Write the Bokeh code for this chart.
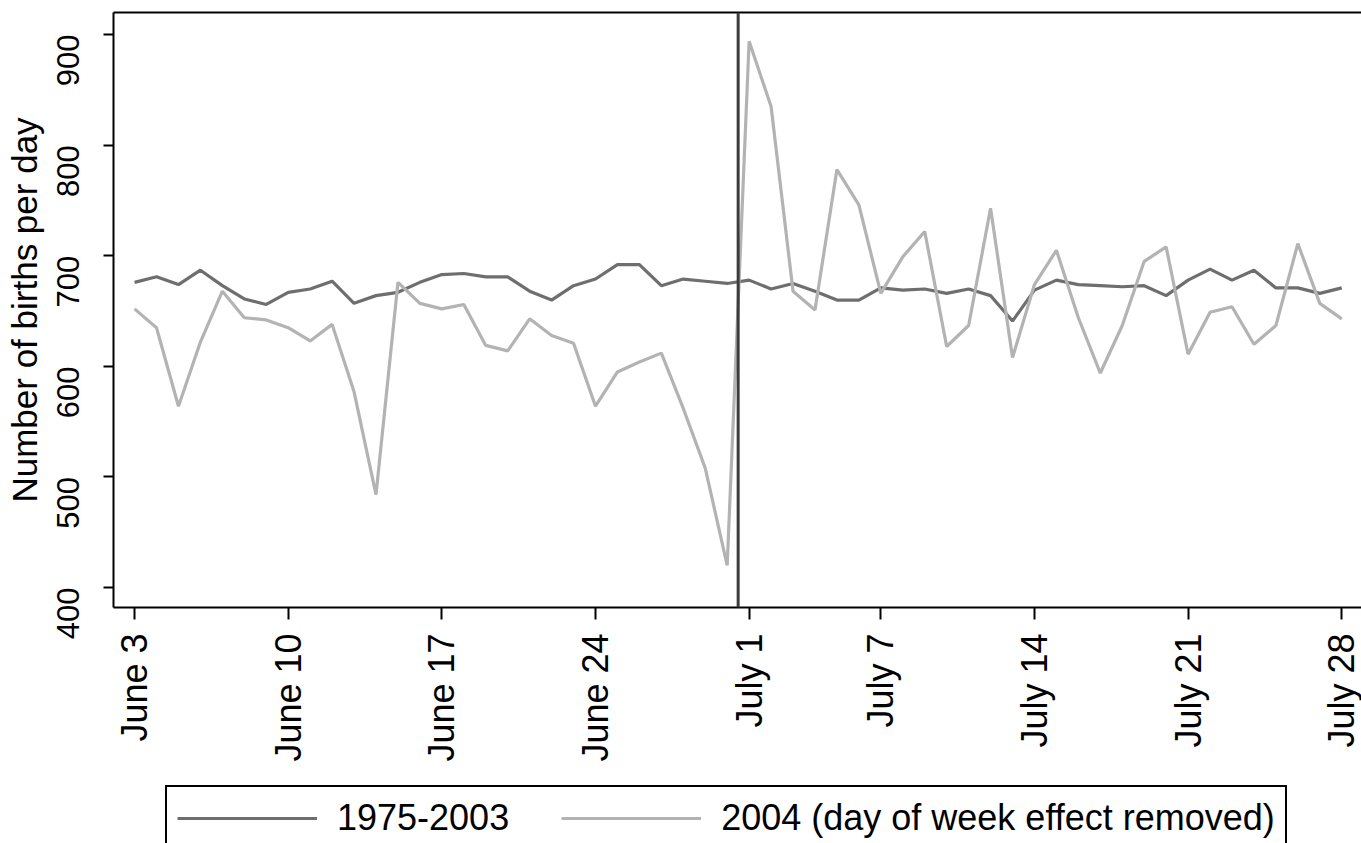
import math
from bokeh.plotting import figure
from bokeh.layouts import column
from bokeh.models import (ColumnDataSource, FixedTicker, Span, Legend, LegendItem,
                          LinearAxis, Range1d)
from bokeh.embed import file_html
from bokeh.resources import INLINE

# Day index 0 = June 3 ... 55 = July 28
days = list(range(56))
tick_days = [0, 7, 14, 21, 28, 34, 41, 48, 55]
tick_labels = ["June 3", "June 10", "June 17", "June 24", "July 1",
               "July 7", "July 14", "July 21", "July 28"]
y_ticks = [400, 500, 600, 700, 800, 900]
cutoff_day = 27.5  # between June 30 and July 1

births_1975_2003 = [676, 681, 674, 687, 673, 661, 656, 667, 670, 677,
                    657, 664, 667, 676, 683, 684, 681, 681, 668, 660,
                    673, 679, 692, 692, 673, 679, 677, 675, 678, 670,
                    675, 668, 660, 660, 671, 669, 670, 666, 670, 664,
                    641, 669, 678, 674, 673, 672, 673, 664, 678, 688,
                    678, 687, 671, 671, 666, 671]
births_2004 = [652, 635, 564, 622, 668, 644, 642, 635, 623, 638,
               577, 484, 676, 657, 652, 656, 619, 614, 643, 628,
               621, 564, 595, 604, 612, 562, 508, 420, 894, 835,
               668, 651, 778, 746, 666, 699, 722, 618, 637, 743,
               608, 674, 705, 644, 594, 637, 695, 708, 611, 649,
               654, 620, 637, 711, 657, 643]

series_labels = ["1975-2003", "2004 (day of week effect removed)"]
series_colors = ["#6e6e6e", "#b3b3b3"]

FONT = "Liberation Sans"
W = 1361

p = figure(width=W, height=781, x_range=(-0.96, 55.9), y_range=(382, 920),
           output_backend="svg", toolbar_location=None,
           min_border_left=113, min_border_top=12, min_border_right=0,
           min_border_bottom=174)
p.background_fill_color = "white"
p.border_fill_color = "white"
p.outline_line_color = None
p.xgrid.visible = False
p.ygrid.visible = False

src = ColumnDataSource(dict(day=days, a=births_1975_2003, b=births_2004))
p.line("day", "a", source=src, line_color=series_colors[0], line_width=3.2)
p.line("day", "b", source=src, line_color=series_colors[1], line_width=3.2)

p.add_layout(Span(location=cutoff_day, dimension="height",
                  line_color="#3c3c3c", line_width=3))

xa = p.below[0]
xa.ticker = FixedTicker(ticks=tick_days)
xa.major_label_overrides = {d: l for d, l in zip(tick_days, tick_labels)}
xa.major_label_orientation = math.pi / 2
xa.major_label_text_font = FONT
xa.major_label_text_font_size = "36px"
xa.major_label_text_color = "black"
xa.major_tick_out = 12
xa.major_tick_in = 0
xa.minor_tick_line_color = None
xa.axis_line_color = "black"
xa.axis_line_width = 2
xa.major_tick_line_width = 2
xa.major_label_standoff = 14

ya = p.left[0]
ya.ticker = FixedTicker(ticks=y_ticks)
ya.major_label_orientation = math.pi / 2
ya.major_label_text_font = FONT
ya.major_label_text_font_size = "31px"
ya.major_label_text_color = "black"
ya.major_tick_out = 10
ya.major_tick_in = 0
ya.minor_tick_line_color = None
ya.axis_line_color = "black"
ya.axis_line_width = 2
ya.major_tick_line_width = 2
ya.axis_label = "Number of births per day"
ya.axis_label_text_font = FONT
ya.axis_label_text_font_size = "35px"
ya.axis_label_text_font_style = "normal"
ya.axis_label_text_color = "black"
ya.axis_label_standoff = 0
ya.major_label_standoff = 35

# top border line only (no right border, like the reference)
top = LinearAxis(ticker=FixedTicker(ticks=[]), major_label_text_font_size="0px",
                 major_tick_line_color=None, minor_tick_line_color=None,
                 axis_line_color="black", axis_line_width=2)
p.add_layout(top, "above")

# legend strip below
q = figure(width=W, height=62, x_range=Range1d(0, 1), y_range=Range1d(0, 1),
           output_backend="svg", toolbar_location=None,
           x_axis_type=None, y_axis_type=None,
           min_border_left=0, min_border_right=0, min_border_top=0, min_border_bottom=0)
q.outline_line_color = None
q.xgrid.visible = False
q.ygrid.visible = False
# off-screen stand-ins so the legend can draw its glyphs
g1 = q.line(x=[5, 6], y=[5, 6], line_color=series_colors[0], line_width=3.2)
g2 = q.line(x=[5, 6], y=[5, 6], line_color=series_colors[1], line_width=3.2)
legend = Legend(items=[LegendItem(label=series_labels[0], renderers=[g1]),
                       LegendItem(label=series_labels[1], renderers=[g2])],
                orientation="horizontal", location=(52, -8))
legend.label_text_font = FONT
legend.label_text_font_size = "36px"
legend.label_text_color = "black"
legend.label_height = 40
legend.glyph_width = 140
legend.glyph_height = 30
legend.label_standoff = 20
legend.spacing = 52
legend.padding = 10
legend.margin = 0
legend.border_line_color = "black"
legend.border_line_alpha = 1.0
legend.border_line_width = 2
legend.background_fill_color = "white"
legend.background_fill_alpha = 1.0
q.add_layout(legend, "center")

layout = column(p, q, spacing=0)
open("out.html", "w").write(file_html(layout, INLINE))
